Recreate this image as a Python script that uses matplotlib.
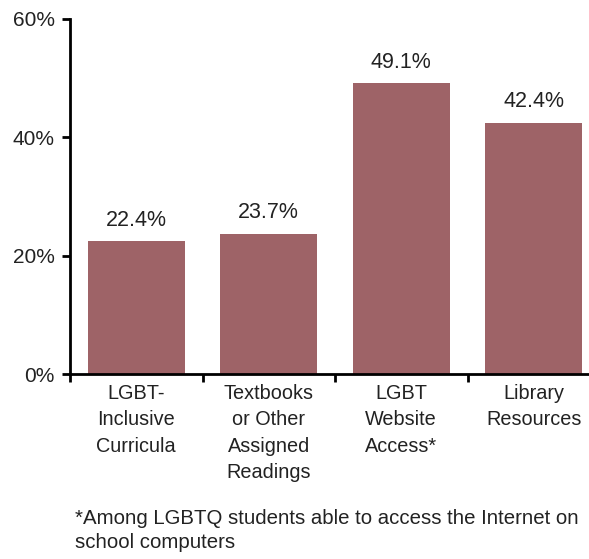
import matplotlib
matplotlib.use("Agg")
import matplotlib.pyplot as plt
import numpy as np

categories = ["LGBT-\nInclusive\nCurricula", "Textbooks\nor Other\nAssigned\nReadings",
              "LGBT\nWebsite\nAccess*", "Library\nResources"]
values = [22.4, 23.7, 49.1, 42.4]
value_labels = ["22.4%", "23.7%", "49.1%", "42.4%"]
yticks = [0, 20, 40, 60]
ytick_labels = ["0%", "20%", "40%", "60%"]
footnote = "*Among LGBTQ students able to access the Internet on\nschool computers"

plt.rcParams['font.family'] = ['Liberation Sans', 'DejaVu Sans']
text_color = "#222222"
bar_color = "#9e6367"

fig = plt.figure(figsize=(5.89, 5.59), dpi=100)
ax = fig.add_axes([70/589, 185/559, 530/589, 355/559])
x = np.arange(len(categories))
bars = ax.bar(x, values, width=0.73, color=bar_color)
for xi, v, lab in zip(x, values, value_labels):
    ax.text(xi, v + 1.8, lab, ha="center", va="bottom", fontsize=15.5, color=text_color)

ax.set_xlim(-0.5, len(categories) - 0.5)
ax.set_ylim(0, 60)
ax.set_yticks(yticks)
ax.set_yticklabels(ytick_labels, fontsize=15, color=text_color)
ax.set_xticks(np.arange(-0.5, len(categories), 1.0))
ax.set_xticklabels([])
ax.set_xticks(x, minor=True)
ax.set_xticklabels(categories, minor=True, fontsize=14.3, color=text_color, linespacing=1.5, va="top")
ax.tick_params(axis="x", which="minor", length=0, pad=7)
ax.tick_params(axis="x", which="major", direction="out", length=6, width=2)
ax.tick_params(axis="y", direction="out", length=6, width=2, pad=5)
for s in ["top", "right"]:
    ax.spines[s].set_visible(False)
for s in ["left", "bottom"]:
    ax.spines[s].set_linewidth(2)

fig.text(75/589, 1 - 509/559, footnote, ha="left", va="top", fontsize=14.7, color=text_color, linespacing=1.35)
fig.savefig("out.png", dpi=100)
